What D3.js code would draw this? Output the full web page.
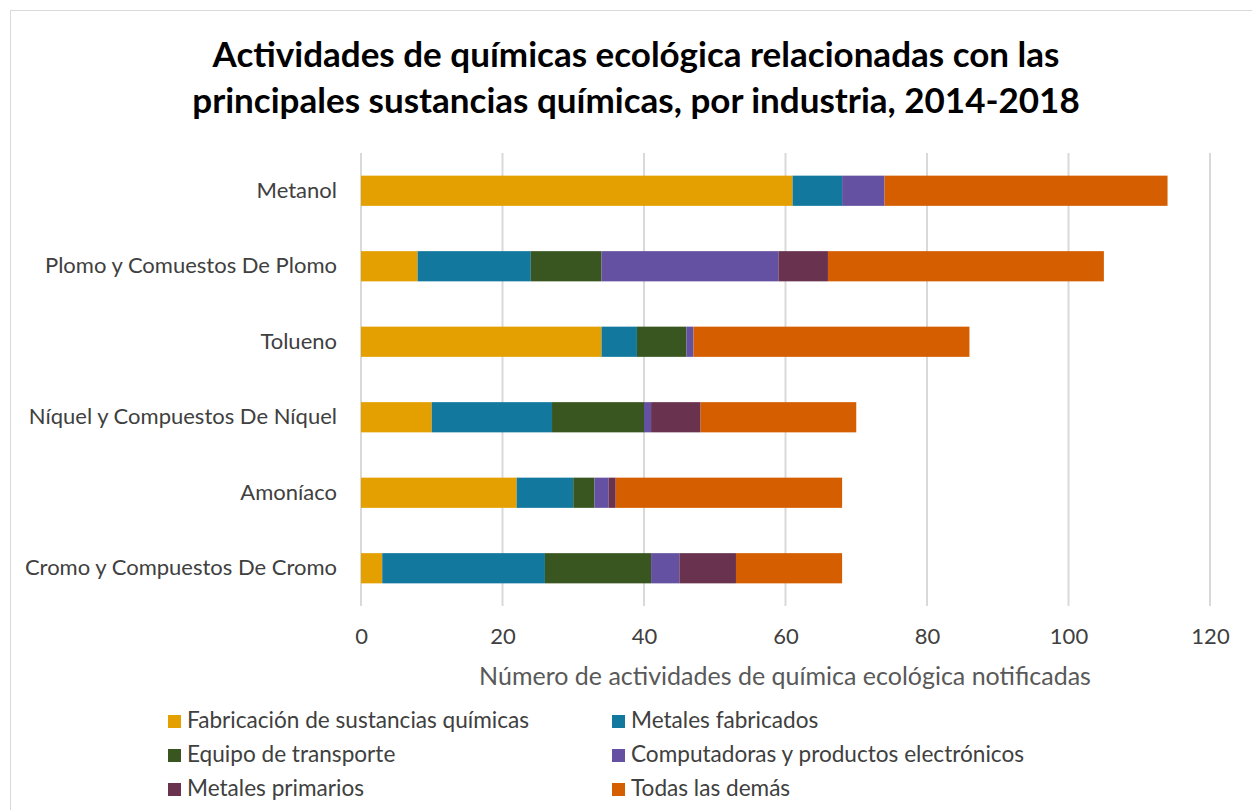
<!DOCTYPE html>
<html>
<head>
<meta charset="utf-8">
<script src="https://cdn.jsdelivr.net/npm/d3@7"></script>
<style>
  body{margin:0;background:#fff;}
  svg{display:block;font-family:Lato,"Open Sans",sans-serif;}
</style>
</head>
<body>
<svg id="canvas" width="1252" height="810"></svg>
<script>
// data
const categories = ["Metanol","Plomo y Comuestos De Plomo","Tolueno","Níquel y Compuestos De Níquel","Amoníaco","Cromo y Compuestos De Cromo"];
const seriesNames = ["Fabricación de sustancias químicas","Metales fabricados","Equipo de transporte","Computadoras y productos electrónicos","Metales primarios","Todas las demás"];
const fabricacion = [61, 8, 34, 10, 22, 3];
const metalesFab  = [7, 16, 5, 17, 8, 23];
const equipo      = [0, 10, 7, 13, 3, 15];
const computadoras= [6, 25, 1, 1, 2, 4];
const primarios   = [0, 7, 0, 7, 1, 8];
const demas       = [40, 39, 39, 22, 32, 15];
const xTicks = [0,20,40,60,80,100,120];
const colors = ["#e3a000","#13789e","#3a5620","#6551a1","#693350","#d55e00"];

let svg = d3.select("#canvas");
let W = 1252, H = 810;

// frame
svg.append("rect").attr("x",10.5).attr("y",10.5).attr("width",W).attr("height",H)
  .attr("fill","#fff").attr("stroke","#d9d9d9");

// title
let title = svg.append("text").attr("text-anchor","middle").attr("x",636)
  .style("font-weight","bold").style("font-size","35px").attr("fill","#000");
title.append("tspan").attr("x",636).attr("y",67).text("Actividades de químicas ecológica relacionadas con las");
title.append("tspan").attr("x",636).attr("y",113).text("principales sustancias químicas, por industria, 2014-2018");

let table = categories.map((c,i)=>({cat:c, s0:fabricacion[i], s1:metalesFab[i], s2:equipo[i], s3:computadoras[i], s4:primarios[i], s5:demas[i]}));
let keys = ["s0","s1","s2","s3","s4","s5"];
let stacked = d3.stack().keys(keys)(table);

let x = d3.scaleLinear().domain([0,120]).range([361,1210]);
let y = d3.scaleBand().domain(categories).range([153,606]).paddingInner(0.6).paddingOuter(0.3);

// gridlines
svg.append("g").selectAll("line").data(xTicks).join("line")
  .attr("x1",d=>x(d)).attr("x2",d=>x(d)).attr("y1",153).attr("y2",606)
  .attr("stroke","#d9d9d9").attr("stroke-width",2);

// bars
svg.append("g").selectAll("g").data(stacked).join("g")
  .attr("fill",(d,i)=>colors[i])
  .selectAll("rect").data(d=>d).join("rect")
  .attr("x",d=>x(d[0])).attr("width",d=>x(d[1])-x(d[0]))
  .attr("y",d=>y(d.data.cat)).attr("height",y.bandwidth());

// x axis labels
let xAxis = svg.append("g").attr("transform","translate(0,606)")
  .call(d3.axisBottom(x).tickValues(xTicks).tickSize(0).tickPadding(22));
xAxis.select(".domain").remove();
xAxis.selectAll("text").style("font-size","22px").style("font-family","Lato,'Open Sans',sans-serif").attr("fill","#404040");

// y axis labels
let yAxis = svg.append("g").attr("transform","translate(361,0)")
  .call(d3.axisLeft(y).tickSize(0).tickPadding(24));
yAxis.select(".domain").remove();
yAxis.selectAll("text").style("font-size","22px").style("font-family","Lato,'Open Sans',sans-serif").attr("fill","#404040");

// axis title
svg.append("text").attr("x",785).attr("y",685).attr("text-anchor","middle")
  .style("font-size","25px").attr("fill","#595959")
  .text("Número de actividades de química ecológica notificadas");

// legend
let leg = svg.append("g");
seriesNames.forEach((n,i)=>{
  let col = i%2, row = Math.floor(i/2);
  let lx = col==0 ? 168 : 612, ly = 715 + row*34;
  leg.append("rect").attr("x",lx).attr("y",ly).attr("width",13).attr("height",13).attr("fill",colors[i]);
  leg.append("text").attr("x",lx+19).attr("y",ly+13).style("font-size","22.6px").attr("fill","#404040").text(n);
});
</script>
</body>
</html>
